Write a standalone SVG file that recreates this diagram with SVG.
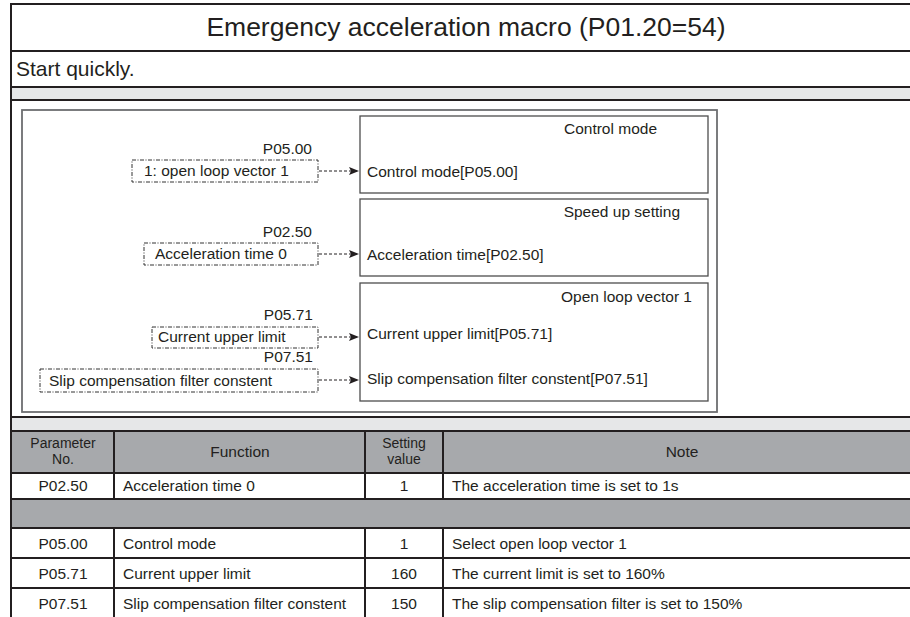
<svg xmlns="http://www.w3.org/2000/svg" width="910" height="617" viewBox="0 0 910 617">
<style>
text{font-family:"Liberation Sans",Arial,sans-serif;fill:#231f20}
.t16{font-size:15.5px}
.hd{font-size:15.5px;text-anchor:middle}
.hd2{font-size:14px;text-anchor:middle}
.blk{stroke:#231f20;stroke-width:2;fill:none}
.box{fill:#fff;stroke:#4d4d4d;stroke-width:1.3}
.dbox{fill:#fff;stroke:#333;stroke-width:1;stroke-dasharray:4 1.5 1 1.5}
.conn{stroke:#231f20;stroke-width:1;stroke-dasharray:3 2;fill:none}
</style>
<defs>
<marker id="ah" markerWidth="10" markerHeight="8" refX="10" refY="4" orient="auto" markerUnits="userSpaceOnUse">
<path d="M0,0 L10,4 L0,8 L2,4 Z" fill="#231f20"/>
</marker>
</defs>
<rect width="910" height="617" fill="#fff"/>
<!-- bands -->
<rect x="11" y="87" width="899" height="13" fill="#e6e7e8"/>
<rect x="11" y="417" width="899" height="14" fill="#e6e7e8"/>
<rect x="11" y="431" width="899" height="42" fill="#a7a9ac"/>
<rect x="11" y="499" width="899" height="29" fill="#a7a9ac"/>
<!-- frame lines -->
<g id="frame">
<line class="blk" x1="11" y1="4" x2="910" y2="4"/>
<line class="blk" x1="11" y1="3" x2="11" y2="617"/>
<line class="blk" x1="11" y1="51" x2="910" y2="51"/>
<line class="blk" x1="11" y1="87" x2="910" y2="87"/>
<line class="blk" x1="11" y1="100" x2="910" y2="100"/>
<line class="blk" x1="11" y1="417" x2="910" y2="417"/>
<line class="blk" x1="11" y1="431" x2="910" y2="431"/>
<line class="blk" x1="11" y1="473" x2="910" y2="473"/>
<line class="blk" x1="11" y1="499" x2="910" y2="499"/>
<line class="blk" x1="11" y1="528" x2="910" y2="528"/>
<line class="blk" x1="11" y1="558" x2="910" y2="558"/>
<line class="blk" x1="11" y1="588" x2="910" y2="588"/>
<line class="blk" x1="114" y1="431" x2="114" y2="499"/>
<line class="blk" x1="365" y1="431" x2="365" y2="499"/>
<line class="blk" x1="443" y1="431" x2="443" y2="499"/>
<line class="blk" x1="114" y1="528" x2="114" y2="617"/>
<line class="blk" x1="365" y1="528" x2="365" y2="617"/>
<line class="blk" x1="443" y1="528" x2="443" y2="617"/>
</g>
<text x="466" y="36" font-size="26.5" text-anchor="middle">Emergency acceleration macro (P01.20=54)</text>
<text x="16" y="76" font-size="21">Start quickly.</text>
<!-- diagram frame -->
<rect x="22" y="110" width="695" height="302" fill="none" stroke="#6d6e71" stroke-width="1.8"/>
<g id="mode-box">
<rect class="box" x="360" y="116" width="348" height="77"/>
<text class="t16" x="657" y="134" text-anchor="end">Control mode</text>
<text class="t16" x="367" y="177">Control mode[P05.00]</text>
</g>
<g id="speed-box">
<rect class="box" x="360" y="199" width="348" height="77"/>
<text class="t16" x="680" y="217" text-anchor="end">Speed up setting</text>
<text class="t16" x="367" y="260">Acceleration time[P02.50]</text>
</g>
<g id="olv-box">
<rect class="box" x="360" y="283" width="348" height="118"/>
<text class="t16" x="692" y="302" text-anchor="end">Open loop vector 1</text>
<text class="t16" x="367" y="339">Current upper limit[P05.71]</text>
<text class="t16" x="367" y="384">Slip compensation filter constent[P07.51]</text>
</g>
<g id="in-p0500">
<text class="t16" x="312" y="154" text-anchor="end">P05.00</text>
<rect class="dbox" x="132" y="160" width="186" height="22"/>
<text class="t16" x="144" y="176">1: open loop vector 1</text>
</g>
<g id="in-p0250">
<text class="t16" x="312" y="237" text-anchor="end">P02.50</text>
<rect class="dbox" x="144" y="243" width="174" height="22"/>
<text class="t16" x="155" y="259">Acceleration time 0</text>
</g>
<g id="in-p0571">
<text class="t16" x="313" y="320" text-anchor="end">P05.71</text>
<rect class="dbox" x="152" y="327" width="166" height="21"/>
<text class="t16" x="158" y="342">Current upper limit</text>
</g>
<g id="in-p0751">
<text class="t16" x="313" y="362" text-anchor="end">P07.51</text>
<rect class="dbox" x="40" y="369" width="278" height="23"/>
<text class="t16" x="49" y="386">Slip compensation filter constent</text>
</g>
<g id="connectors">
<line class="conn" x1="319" y1="171" x2="359" y2="171" marker-end="url(#ah)"/>
<line class="conn" x1="319" y1="254" x2="359" y2="254" marker-end="url(#ah)"/>
<line class="conn" x1="319" y1="337" x2="359" y2="337" marker-end="url(#ah)"/>
<line class="conn" x1="319" y1="380" x2="359" y2="380" marker-end="url(#ah)"/>
</g>
<g id="table">
<text class="hd2" x="63" y="448">Parameter</text>
<text class="hd2" x="63" y="464">No.</text>
<text class="hd" x="240" y="457">Function</text>
<text class="hd2" x="404" y="448">Setting</text>
<text class="hd2" x="404" y="464">value</text>
<text class="hd" x="682" y="457">Note</text>
<text class="hd" x="63" y="491">P02.50</text>
<text class="t16" x="123" y="491">Acceleration time 0</text>
<text class="hd" x="404" y="491">1</text>
<text class="t16" x="452" y="491">The acceleration time is set to 1s</text>
<text class="hd" x="63" y="549">P05.00</text>
<text class="t16" x="123" y="549">Control mode</text>
<text class="hd" x="404" y="549">1</text>
<text class="t16" x="452" y="549">Select open loop vector 1</text>
<text class="hd" x="63" y="579">P05.71</text>
<text class="t16" x="123" y="579">Current upper limit</text>
<text class="hd" x="404" y="579">160</text>
<text class="t16" x="452" y="579">The current limit is set to 160%</text>
<text class="hd" x="63" y="609">P07.51</text>
<text class="t16" x="123" y="609">Slip compensation filter constent</text>
<text class="hd" x="404" y="609">150</text>
<text class="t16" x="452" y="609">The slip compensation filter is set to 150%</text>
</g>
</svg>
